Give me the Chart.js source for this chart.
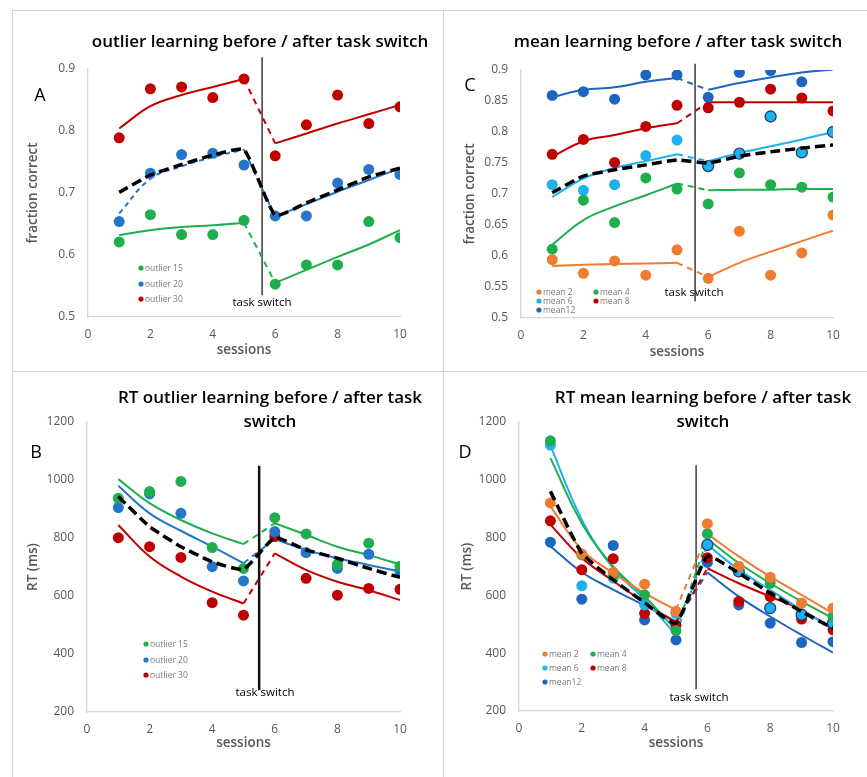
<!DOCTYPE html>
<html>
<head>
<meta charset="utf-8">
<script src="https://cdn.jsdelivr.net/npm/chart.js@4.4.1/dist/chart.umd.min.js"></script>
<style>
  body { margin: 0; background: #fff; width: 867px; height: 777px; position: relative; overflow: hidden; }
  .panel { position: absolute; }
  .rule { position: absolute; background: #d2d2d2; }
</style>
</head>
<body>
<canvas class="panel" id="chartA" width="443" height="372" style="left:0;top:0"></canvas>
<canvas class="panel" id="chartC" width="424" height="372" style="left:443px;top:0"></canvas>
<canvas class="panel" id="chartB" width="443" height="405" style="left:0;top:372px"></canvas>
<canvas class="panel" id="chartD" width="424" height="405" style="left:443px;top:372px"></canvas>
<div class="rule" style="left:12px;top:10px;width:855px;height:1px"></div>
<div class="rule" style="left:12px;top:10px;width:1px;height:767px"></div>
<div class="rule" style="left:443px;top:10px;width:1px;height:767px"></div>
<div class="rule" style="left:12px;top:371px;width:855px;height:1px"></div>
<script>
// sessions
const beforeSessions = [1, 2, 3, 4, 5];
const afterSessions = [6, 7, 8, 9, 10];
const sessions = beforeSessions.concat(afterSessions);
const sessionTicks = [0, 2, 4, 6, 8, 10];

// A: fraction correct, outlier learning
const accTicksA = [0.5, 0.6, 0.7, 0.8, 0.9];
const accOutlier15 = [0.621, 0.665, 0.633, 0.633, 0.656, 0.553, 0.584, 0.584, 0.654, 0.628];
const accOutlier20 = [0.654, 0.732, 0.762, 0.764, 0.745, 0.663, 0.663, 0.716, 0.738, 0.730];
const accOutlier30 = [0.789, 0.868, 0.871, 0.854, 0.884, 0.760, 0.810, 0.858, 0.812, 0.839];
const fitAcc15Before = [0.632, 0.640, 0.645, 0.648, 0.652];
const fitAcc15After = [0.555, 0.576, 0.597, 0.617, 0.640];
const fitAcc20Before = [0.667, 0.723, 0.743, 0.758, 0.770];
const fitAcc20After = [0.662, 0.682, 0.702, 0.721, 0.740];
const fitAcc30Before = [0.804, 0.840, 0.858, 0.871, 0.884];
const fitAcc30After = [0.780, 0.796, 0.812, 0.827, 0.842];
const accOutlierMean = [0.701, 0.729, 0.746, 0.761, 0.770, 0.664, 0.684, 0.705, 0.726, 0.740];

// C: fraction correct, mean learning
const accTicksC = [0.5, 0.55, 0.6, 0.65, 0.7, 0.75, 0.8, 0.85, 0.9];
const accMean2 = [0.594, 0.572, 0.592, 0.569, 0.610, 0.564, 0.640, 0.569, 0.605, 0.666];
const accMean4 = [0.611, 0.690, 0.654, 0.726, 0.708, 0.684, 0.734, 0.715, 0.711, 0.695];
const accMean6 = [0.715, 0.706, 0.715, 0.762, 0.787, 0.745, 0.765, 0.825, 0.767, 0.800];
const accMean8 = [0.764, 0.788, 0.751, 0.809, 0.843, 0.839, 0.848, 0.869, 0.855, 0.834];
const accMean12 = [0.859, 0.865, 0.853, 0.892, 0.892, 0.856, 0.896, 0.899, 0.881, null];
const fitAccM2Before = [0.584, 0.586, 0.587, 0.588, 0.589];
const fitAccM2After = [0.566, 0.589, 0.607, 0.624, 0.641];
const fitAccM4Before = [0.618, 0.658, 0.680, 0.698, 0.717];
const fitAccM4After = [0.706, 0.707, 0.707, 0.708, 0.708];
const fitAccM6Before = [0.695, 0.725, 0.742, 0.753, 0.764];
const fitAccM6After = [0.753, 0.766, 0.777, 0.788, 0.800];
const fitAccM8Before = [0.760, 0.785, 0.795, 0.806, 0.814];
const fitAccM8After = [0.848, 0.848, 0.848, 0.848, 0.848];
const fitAccM12Before = [0.856, 0.868, 0.872, 0.881, 0.887];
const fitAccM12After = [0.868, 0.879, 0.888, 0.896, 0.901];
const accMeanAll = [0.702, 0.729, 0.739, 0.747, 0.755, 0.750, 0.761, 0.768, 0.774, 0.779];

// B: RT, outlier learning
const rtTicks = [200, 400, 600, 800, 1000, 1200];
const rtOutlier15 = [937, 960, 995, 767, 695, 870, 814, 709, 782, 703];
const rtOutlier20 = [905, 952, 885, 701, 652, 822, 750, 695, 744, 686];
const rtOutlier30 = [801, 770, 733, 577, 534, 805, 661, 603, 626, 623];
const fitRt15Before = [1003, 920, 862, 816, 779];
const fitRt15After = [851, 811, 770, 741, 709];
const fitRt20Before = [980, 885, 825, 770, 713];
const fitRt20After = [796, 759, 730, 707, 684];
const fitRt30Before = [845, 736, 667, 615, 574];
const fitRt30After = [747, 690, 649, 620, 586];
const rtOutlierMean = [943, 839, 770, 718, 692, 801, 759, 730, 695, 664];

// D: RT, mean learning
const rtMean2 = [920, 744, 680, 639, 545, 848, 700, 663, 573, 556];
const rtMean4 = [1135, 740, 670, 602, 478, 813, 700, 642, 573, 527];
const rtMean6 = [1120, 633, 660, 567, 538, 775, 683, 556, 533, 504];
const rtMean8 = [858, 689, 727, 538, 498, 730, 579, 596, 518, 481];
const rtMean12 = [784, 587, 773, 515, 446, 714, 567, 504, 437, 440];
const fitRtM2Before = [908, 758, 677, 608, 550];
const fitRtM2After = [813, 735, 665, 602, 538];
const fitRtM4Before = [1075, 850, 700, 596, 480];
const fitRtM4After = [795, 712, 642, 579, 521];
const fitRtM6Before = [1118, 862, 694, 585, 463];
const fitRtM6After = [775, 689, 619, 550, 486];
const fitRtM8Before = [845, 729, 650, 575, 505];
const fitRtM8After = [694, 642, 596, 550, 483];
const fitRtM12Before = [770, 680, 620, 565, 510];
const fitRtM12After = [679, 596, 527, 463, 402];
const rtMeanAll = [960, 746, 654, 575, 504, 735, 677, 608, 544, 486];

// where the task switch line sits (session units) and how far it reaches
const switchA = 5.58, switchSpanA = [0.535, 0.919];
const switchC = 5.58, switchSpanC = [0.527, 0.91];
const switchB = 5.5, switchSpanB = [275, 1049];
const switchD = 5.64, switchSpanD = [275, 1050];

// colours
const GREEN = "#1fae4e";
const BLUE = "#2476c9";
const RED = "#c00000";
const ORANGE = "#ee7d31";
const LIGHTBLUE = "#1db2ee";
const DARKBLUE = "#1c66bf";
const GREY = "#595959";
const FONT = '"Open Sans", sans-serif';

function xy(xs, ys) {
  return xs.map((x, i) => ({ x: x, y: ys[i] }));
}

/**
 * Text on top of the chart: panel letter, title, legend, task switch label
 */
const annotate = {
  id: "annotate",
  afterDraw: function (chart, args, o) {
    const ctx = chart.ctx;
    ctx.save();
    ctx.textBaseline = "middle";

    ctx.fillStyle = "#000";
    ctx.textAlign = "center";
    ctx.font = "600 17px " + FONT;
    o.title.forEach((t, i) => ctx.fillText(t, o.titleX, o.titleY[i]));

    ctx.font = "18px " + FONT;
    ctx.fillText(o.letter, o.letterPos[0], o.letterPos[1]);

    ctx.font = "11.5px " + FONT;
    ctx.fillText("task switch", o.switchLabel[0], o.switchLabel[1]);

    // legend
    ctx.textAlign = "left";
    ctx.font = "8.5px " + FONT;
    o.series.forEach((s, i) => {
      const col = i % o.legend.cols.length;
      const row = Math.floor(i / o.legend.cols.length);
      const x = o.legend.cols[col];
      const y = o.legend.rows[row];
      ctx.fillStyle = s.color;
      ctx.beginPath();
      ctx.arc(x, y, 2.6, 0, Math.PI * 2);
      ctx.fill();
      ctx.fillStyle = "#7a7a7a";
      ctx.fillText(s.label, x + 4, y + 0.5);
    });
    ctx.restore();
  },
};

function makePanel(p) {
  const datasets = [];

  // group mean, black dashed, on top
  datasets.push({
    data: xy(sessions, p.mean),
    showLine: true,
    borderColor: "#000",
    borderWidth: 3.5,
    borderDash: [10, 5],
    pointRadius: 0,
    tension: 0.15,
  });

  p.series.forEach((s) => {
    const outline = s.outlineFrom !== undefined;
    datasets.push({
      data: xy(sessions, s.values),
      showLine: false,
      pointRadius: 5.5,
      pointBackgroundColor: s.color,
      pointBorderColor: sessions.map((x, i) => (outline && i >= s.outlineFrom ? "#1f3f78" : s.color)),
      pointBorderWidth: sessions.map((x, i) => (outline && i >= s.outlineFrom ? 1.3 : 0)),
    });
  });

  p.series.forEach((s) => {
    datasets.push({
      data: xy(beforeSessions, s.before),
      showLine: true,
      borderColor: s.color,
      borderWidth: 2,
      borderDash: s.dashedBefore ? [5, 4] : [],
      pointRadius: 0,
      tension: 0.4,
    });
    datasets.push({
      data: xy(afterSessions, s.after),
      showLine: true,
      borderColor: s.color,
      borderWidth: 2,
      pointRadius: 0,
      tension: 0.4,
    });
    // dashed bridge across the switch
    datasets.push({
      data: [
        { x: beforeSessions[4], y: s.before[4] },
        { x: afterSessions[0], y: s.after[0] },
      ],
      showLine: true,
      borderColor: s.color,
      borderWidth: 2,
      borderDash: [6, 5],
      pointRadius: 0,
    });
  });

  // task switch line
  datasets.push({
    data: [
      { x: p.switchX, y: p.switchSpan[0] },
      { x: p.switchX, y: p.switchSpan[1] },
    ],
    showLine: true,
    borderColor: p.switchColor,
    borderWidth: p.switchWidth,
    pointRadius: 0,
    clip: false,
  });

  const yTicks = p.yTicks;

  return new Chart(document.getElementById(p.canvas), {
    type: "scatter",
    data: { datasets: datasets },
    plugins: [annotate],
    options: {
      responsive: false,
      animation: false,
      layout: { padding: { top: p.area.top, right: p.area.right, left: 0, bottom: 0 } },
      plugins: {
        legend: { display: false },
        tooltip: { enabled: false },
        annotate: {
          title: p.title,
          titleX: p.titleX,
          titleY: p.titleY,
          letter: p.letter,
          letterPos: p.letterPos,
          switchLabel: p.switchLabel,
          legend: p.legend,
          series: p.series,
        },
      },
      scales: {
        x: {
          type: "linear",
          min: sessionTicks[0],
          max: sessionTicks[sessionTicks.length - 1],
          afterBuildTicks: (s) => {
            s.ticks = sessionTicks.map((v) => ({ value: v }));
          },
          afterFit: (s) => {
            s.height = p.area.xAxis;
          },
          grid: { display: false, drawTicks: false },
          border: { color: "#d6d6d6", width: 1.3 },
          ticks: { color: GREY, font: { family: FONT, size: 12 }, padding: 10 },
          title: {
            display: true,
            text: "sessions",
            color: GREY,
            font: { family: FONT, size: 13.5, weight: "600" },
            padding: { top: 0, bottom: p.area.xTitle },
          },
        },
        y: {
          type: "linear",
          min: yTicks[0],
          max: yTicks[yTicks.length - 1],
          afterBuildTicks: (s) => {
            s.ticks = yTicks.map((v) => ({ value: v }));
          },
          afterFit: (s) => {
            s.width = p.area.yAxis;
          },
          grid: { display: false, drawTicks: false },
          border: { color: "#d6d6d6", width: 1.3 },
          ticks: {
            color: GREY,
            font: { family: FONT, size: 12 },
            padding: 13,
            callback: (v) => String(+v.toFixed(2)),
          },
          title: {
            display: true,
            text: p.yTitle,
            color: GREY,
            font: { family: FONT, size: 13.5, weight: "600" },
            padding: { top: p.area.yTitle, bottom: 0 },
          },
        },
      },
    },
  });
}

makePanel({
  canvas: "chartA",
  title: ["outlier learning before / after task switch"],
  titleX: 260,
  titleY: [42],
  letter: "A",
  letterPos: [40, 96],
  yTitle: "fraction correct",
  yTicks: accTicksA,
  area: { top: 69, right: 43, yAxis: 88, xAxis: 55, yTitle: 24.6, xTitle: 13.6 },
  mean: accOutlierMean,
  switchX: switchA,
  switchSpan: switchSpanA,
  switchColor: "#3a3a3a",
  switchWidth: 1.5,
  switchLabel: [262, 303],
  legend: { cols: [141], rows: [268, 284, 299] },
  series: [
    { label: "outlier 15", color: GREEN, values: accOutlier15, before: fitAcc15Before, after: fitAcc15After },
    { label: "outlier 20", color: BLUE, values: accOutlier20, before: fitAcc20Before, after: fitAcc20After, dashedBefore: true },
    { label: "outlier 30", color: RED, values: accOutlier30, before: fitAcc30Before, after: fitAcc30After },
  ],
});

makePanel({
  canvas: "chartC",
  title: ["mean learning before / after task switch"],
  titleX: 235,
  titleY: [42],
  letter: "C",
  letterPos: [27, 86],
  yTitle: "fraction correct",
  yTicks: accTicksC,
  area: { top: 70, right: 34, yAxis: 78, xAxis: 54, yTitle: 18.6, xTitle: 11.6 },
  mean: accMeanAll,
  switchX: switchC,
  switchSpan: switchSpanC,
  switchColor: "#3a3a3a",
  switchWidth: 1.5,
  switchLabel: [251, 293],
  legend: { cols: [96, 153], rows: [292, 301, 310] },
  series: [
    { label: "mean 2", color: ORANGE, values: accMean2, before: fitAccM2Before, after: fitAccM2After },
    { label: "mean 4", color: GREEN, values: accMean4, before: fitAccM4Before, after: fitAccM4After },
    { label: "mean 6", color: LIGHTBLUE, values: accMean6, before: fitAccM6Before, after: fitAccM6After, outlineFrom: 5 },
    { label: "mean 8", color: RED, values: accMean8, before: fitAccM8Before, after: fitAccM8After },
    { label: "mean12", color: DARKBLUE, values: accMean12, before: fitAccM12Before, after: fitAccM12After },
  ],
});

makePanel({
  canvas: "chartB",
  title: ["RT outlier learning before / after task", "switch"],
  titleX: 270,
  titleY: [26, 50],
  letter: "B",
  letterPos: [36, 81],
  yTitle: "RT (ms)",
  yTicks: rtTicks,
  area: { top: 50, right: 43, yAxis: 87, xAxis: 65, yTitle: 24.6, xTitle: 25.6 },
  mean: rtOutlierMean,
  switchX: switchB,
  switchSpan: switchSpanB,
  switchColor: "#111",
  switchWidth: 2.5,
  switchLabel: [265, 321],
  legend: { cols: [146], rows: [272, 288, 303] },
  series: [
    { label: "outlier 15", color: GREEN, values: rtOutlier15, before: fitRt15Before, after: fitRt15After },
    { label: "outlier 20", color: BLUE, values: rtOutlier20, before: fitRt20Before, after: fitRt20After },
    { label: "outlier 30", color: RED, values: rtOutlier30, before: fitRt30Before, after: fitRt30After },
  ],
});

makePanel({
  canvas: "chartD",
  title: ["RT mean learning before / after task", "switch"],
  titleX: 260,
  titleY: [26, 50],
  letter: "D",
  letterPos: [22, 81],
  yTitle: "RT (ms)",
  yTicks: rtTicks,
  area: { top: 50, right: 34, yAxis: 76, xAxis: 66, yTitle: 15.6, xTitle: 25.6 },
  mean: rtMeanAll,
  switchX: switchD,
  switchSpan: switchSpanD,
  switchColor: "#3a3a3a",
  switchWidth: 1.5,
  switchLabel: [256, 326],
  legend: { cols: [102, 150], rows: [282, 296, 310] },
  series: [
    { label: "mean 2", color: ORANGE, values: rtMean2, before: fitRtM2Before, after: fitRtM2After },
    { label: "mean 4", color: GREEN, values: rtMean4, before: fitRtM4Before, after: fitRtM4After },
    { label: "mean 6", color: LIGHTBLUE, values: rtMean6, before: fitRtM6Before, after: fitRtM6After, outlineFrom: 5 },
    { label: "mean 8", color: RED, values: rtMean8, before: fitRtM8Before, after: fitRtM8After },
    { label: "mean12", color: DARKBLUE, values: rtMean12, before: fitRtM12Before, after: fitRtM12After },
  ],
});
</script>
</body>
</html>
